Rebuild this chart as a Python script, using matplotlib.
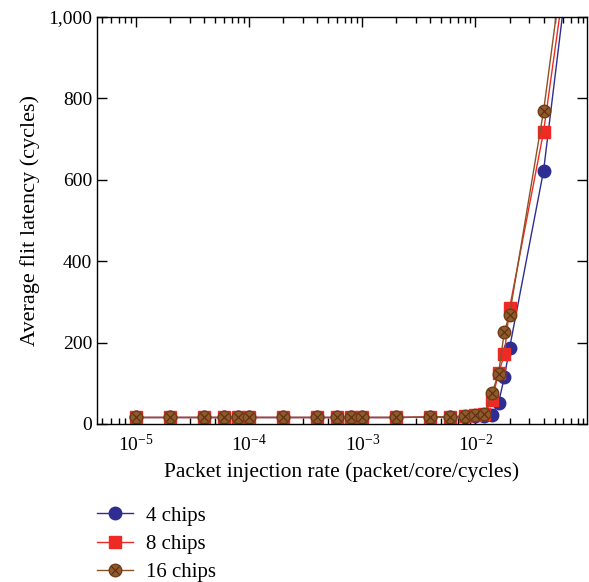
import matplotlib
matplotlib.use("Agg")
import matplotlib.pyplot as plt
from matplotlib.ticker import FuncFormatter, LogLocator, MultipleLocator

plt.rcParams['font.family'] = ['Liberation Serif', 'DejaVu Serif']
plt.rcParams['mathtext.fontset'] = 'stix'

# injection rates (packet/core/cycles)
rate = [1e-5, 2e-5, 4e-5, 6e-5, 8e-5, 1e-4, 2e-4, 4e-4, 6e-4, 8e-4, 1e-3,
        2e-3, 4e-3, 6e-3, 8e-3, 0.01, 0.012, 0.014, 0.016, 0.018, 0.02, 0.04, 0.08]

# average flit latency (cycles)
lat_4 = [16, 16, 16, 16, 16, 16, 16, 16, 16, 16, 16,
         16, 17, 17, 18, 19, 19, 22, 52, 115, 186, 622, 1310]
lat_8 = [16, 16, 16, 16, 16, 16, 16, 16, 16, 16, 16,
         16, 17, 17, 19, 21, 24, 59, 125, 171, 284, 718, 1320]
lat_16 = [16, 16, 16, 16, 16, 16, 16, 16, 16, 16, 16,
          16, 17, 18, 19, 22, 25, 76, 124, 227, 268, 769, 1400]

labels = ['4 chips', '8 chips', '16 chips']

fig = plt.figure(figsize=(5.89, 5.82), dpi=100)
ax = fig.add_axes([0.1647, 0.2715, 0.832, 0.6993])

l4, = ax.plot(rate, lat_4, color='#2E2D92', lw=1.0, marker='o', ms=9,
              mec='#2E2D92', mfc='#2E2D92')
l8, = ax.plot(rate, lat_8, color='#EE2A24', lw=1.0, marker='s', ms=8.5,
              mec='#EE2A24', mfc='#EE2A24')
l16, = ax.plot(rate, lat_16, color='#8A5326', lw=1.0, marker='o', ms=9,
               mec='#6E3C18', mfc='#8F5A2C')
l16x, = ax.plot(rate, lat_16, ls='none', marker='x', ms=5.5, mew=0.8,
                color='#5A2E10')

ax.set_xscale('log')
ax.set_xlim(4.5e-6, 0.097)
ax.set_ylim(0, 1000)
ax.yaxis.set_major_locator(MultipleLocator(200))
ax.yaxis.set_major_formatter(FuncFormatter(lambda v, p: f'{int(v):,}'))
ax.xaxis.set_major_locator(LogLocator(base=10, numticks=10))
ax.xaxis.set_minor_locator(LogLocator(base=10, subs=range(2, 10), numticks=20))

ax.tick_params(which='both', direction='in', top=True, right=True, labelsize=14, width=1)
ax.tick_params(which='major', length=7)
ax.tick_params(which='minor', length=4)
ax.tick_params(axis='x', pad=7)
for s in ax.spines.values():
    s.set_linewidth(1.0)

ax.set_xlabel('Packet injection rate (packet/core/cycles)', fontsize=15.5, labelpad=5)
ax.set_ylabel('Average flit latency (cycles)', fontsize=16, labelpad=6)

fig.legend([l4, l8, (l16, l16x)], labels, loc='upper left',
           bbox_to_anchor=(0.151, 0.145), frameon=False, fontsize=15,
           handlelength=1.7, handletextpad=0.62, labelspacing=0.42,
           borderaxespad=0)

fig.savefig('out.png', dpi=100)
